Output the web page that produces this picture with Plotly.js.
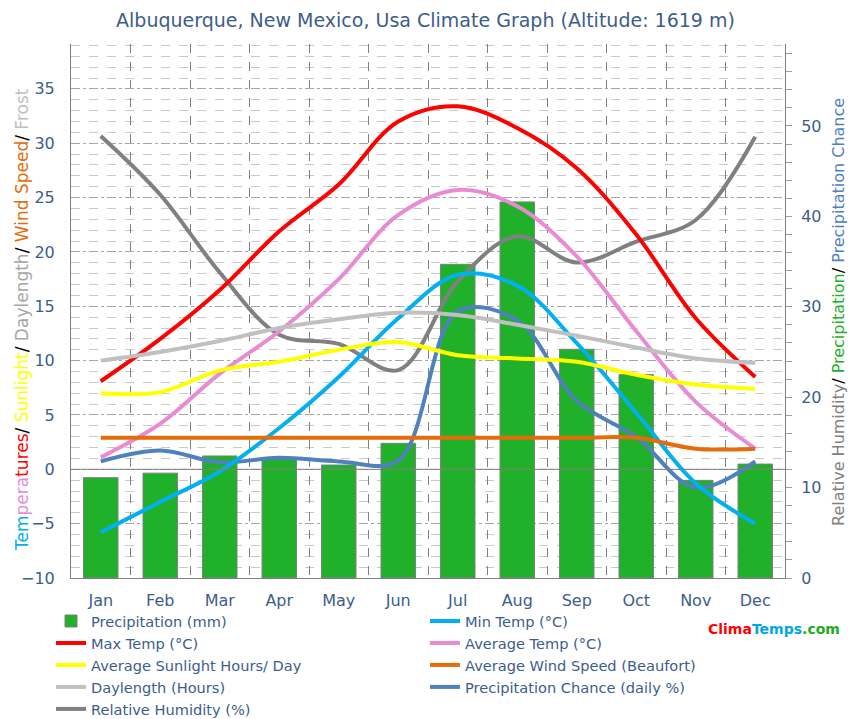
<!DOCTYPE html>
<html><head><meta charset="utf-8">
<script src="https://cdn.plot.ly/plotly-3.0.1.min.js"></script>
<style>html,body{margin:0;padding:0;background:#fff}#chart{width:851px;height:719px}</style>
</head><body><div id="chart"></div>
<script>
const months = ['Jan','Feb','Mar','Apr','May','Jun','Jul','Aug','Sep','Oct','Nov','Dec'];
const precipitation = [11.1, 11.6, 13.5, 13.3, 12.5, 14.9, 34.7, 41.6, 25.3, 22.5, 10.8, 12.6];
const minTemp = [-5.8, -3.0, -0.2, 3.8, 8.5, 13.9, 17.9, 16.9, 11.6, 5.2, -1.3, -5.0];
const maxTemp = [8.1, 12.0, 16.5, 21.9, 26.2, 32.0, 33.4, 31.4, 27.7, 21.6, 13.9, 8.5];
const avgTemp = [1.1, 4.2, 8.8, 12.7, 17.5, 23.4, 25.7, 24.2, 19.6, 12.7, 6.2, 1.9];
const sunlight = [7.0, 7.1, 9.1, 9.9, 11.0, 11.7, 10.5, 10.2, 9.9, 8.7, 7.8, 7.4];
const windSpeed = [2.9, 2.9, 2.9, 2.9, 2.9, 2.9, 2.9, 2.9, 2.9, 2.9, 1.9, 1.9];
const daylength = [10.0, 10.8, 11.8, 13.0, 13.8, 14.4, 14.2, 13.3, 12.3, 11.2, 10.2, 9.8];
const precipChance = [12.9, 14.1, 12.8, 13.3, 12.9, 13.0, 29.5, 28.5, 19.6, 15.6, 10.0, 12.9];
const humidity = [48.9, 42.4, 33.8, 26.9, 25.9, 23.0, 32.8, 37.8, 34.9, 37.2, 39.6, 48.8];

const textColor = '#3d5d8c';
const FONT = 'DejaVu Sans';

function lineTrace(name, y, color, axis, legend) {
  return {type: 'scatter', mode: 'lines', x: months, y: y, name: name, yaxis: axis, legend: legend,
    line: {color: color, width: 4, shape: 'spline', smoothing: 1}, hoverinfo: 'skip'};
}

const data = [
  {type: 'bar', x: months, y: precipitation, name: 'Precipitation (mm)', yaxis: 'y', legend: 'legend',
   marker: {color: '#21b02a', line: {color: '#808080', width: 1}}, hoverinfo: 'skip'},
  lineTrace('Min Temp (°C)', minTemp, '#00b0f0', 'y2', 'legend2'),
  lineTrace('Max Temp (°C)', maxTemp, '#ff0000', 'y2', 'legend'),
  lineTrace('Average Temp (°C)', avgTemp, '#e98bd3', 'y2', 'legend2'),
  lineTrace('Average Sunlight Hours/ Day', sunlight, '#ffff00', 'y2', 'legend'),
  lineTrace('Average Wind Speed (Beaufort)', windSpeed, '#e46c0a', 'y2', 'legend2'),
  lineTrace('Daylength (Hours)', daylength, '#c0c0c0', 'y2', 'legend'),
  lineTrace('Precipitation Chance (daily %)', precipChance, '#4f81bd', 'y', 'legend2'),
  lineTrace('Relative Humidity (%)', humidity, '#808080', 'y', 'legend')
];

const leftTitle = '<span style="color:#00b0f0">Tem</span><span style="color:#e98bd3">pera</span><span style="color:#ff0000">tures</span><span style="color:#000">/ </span>' +
  '<span style="color:#ffff00">Sunlight</span><span style="color:#000">/ </span>' +
  '<span style="color:#a6a6a6">Daylength</span><span style="color:#000">/ </span>' +
  '<span style="color:#e46c0a">Wind Speed</span><span style="color:#000">/ </span>' +
  '<span style="color:#c0c0c0">Frost</span>';
const rightTitle = '<span style="color:#808080">Relative Humidity</span><span style="color:#000">/ </span>' +
  '<span style="color:#21b02a">Precipitation</span><span style="color:#000">/ </span>' +
  '<span style="color:#4f81bd">Precipitation Chance</span>';

const W = 851, H = 719;
const PL = 71, PR = 785, PT = 44, PB = 578;
const px = x => (x - PL) / (PR - PL);
const py = y => (PB - y) / (PB - PT);

const legendBase = {orientation: 'v', xref: 'paper', yref: 'container', xanchor: 'left', yanchor: 'top',
  traceorder: 'normal', font: {family: FONT, size: 14.6, color: textColor}, bgcolor: 'rgba(0,0,0,0)'};

const layout = {
  width: W, height: H,
  margin: {l: PL, r: W - PR, t: PT, b: H - PB, pad: 0},
  paper_bgcolor: '#ffffff', plot_bgcolor: '#ffffff',
  font: {family: FONT, size: 15, color: textColor},
  showlegend: true,
  bargap: 0.42,
  title: {text: 'Albuquerque, New Mexico, Usa Climate Graph (Altitude: 1619 m)',
    xref: 'container', x: 0.5, xanchor: 'center', yref: 'container', y: 1 - 20/H, yanchor: 'middle',
    font: {family: FONT, size: 19, color: textColor}},
  xaxis: {type: 'category', range: [-0.5, 11.5], tickson: 'boundaries', ticks: '',
    showgrid: true, gridcolor: '#808080', griddash: 'dash', gridwidth: 1,
    showline: true, linecolor: '#808080', linewidth: 1, mirror: false,
    tickfont: {size: 16, color: textColor}, ticklabelstandoff: 8, fixedrange: true},
  yaxis: {side: 'right', range: [0, 59.07], dtick: 10, tick0: 0, showgrid: false, zeroline: false,
    showline: true, linecolor: '#808080', linewidth: 1,
    ticks: 'outside', ticklen: 6, tickcolor: '#a0a0a0', tickwidth: 1,
    minor: {dtick: 2, ticks: 'outside', ticklen: 6, tickcolor: '#a0a0a0', showgrid: false},
    tickfont: {size: 16, color: textColor}, ticklabelstandoff: 6, fixedrange: true},
  yaxis2: {side: 'left', overlaying: 'y', range: [-10, 39.13], dtick: 5, tick0: 0,
    showgrid: true, gridcolor: '#a6a6a6', griddash: 'dashdot', gridwidth: 1,
    minor: {dtick: 1, showgrid: true, gridcolor: '#c8c8c8', griddash: 'dash', gridwidth: 1},
    zeroline: false, showline: true, linecolor: '#808080', linewidth: 1, ticks: '',
    tickfont: {size: 16, color: textColor}, ticklabelstandoff: 12, fixedrange: true},
  legend: Object.assign({}, legendBase, {x: px(51), y: 1 - 605/H}),
  legend2: Object.assign({}, legendBase, {x: px(425), y: 1 - 605/H}),
  shapes: [{type: 'line', xref: 'paper', x0: 0, x1: 1, yref: 'y2', y0: 0, y1: 0,
    line: {color: '#808080', width: 1}, layer: 'above'}],
  annotations: [
    {xref: 'paper', yref: 'paper', x: px(774), y: py(629),
     xanchor: 'center', yanchor: 'middle', showarrow: false,
     text: '<b><span style="color:#ff0000">Clima</span><span style="color:#00a6e6">Temps</span><span style="color:#22aa22">.com</span></b>',
     font: {family: FONT, size: 14}},
    {xref: 'paper', yref: 'paper', x: px(22), y: py(320), textangle: -90,
     xanchor: 'center', yanchor: 'middle', showarrow: false,
     text: leftTitle, font: {family: FONT, size: 17}},
    {xref: 'paper', yref: 'paper', x: px(838), y: py(312), textangle: -90,
     xanchor: 'center', yanchor: 'middle', showarrow: false,
     text: rightTitle, font: {family: FONT, size: 16}}
  ]
};

Plotly.newPlot('chart', data, layout, {displayModeBar: false, staticPlot: true});
</script>
</body></html>
